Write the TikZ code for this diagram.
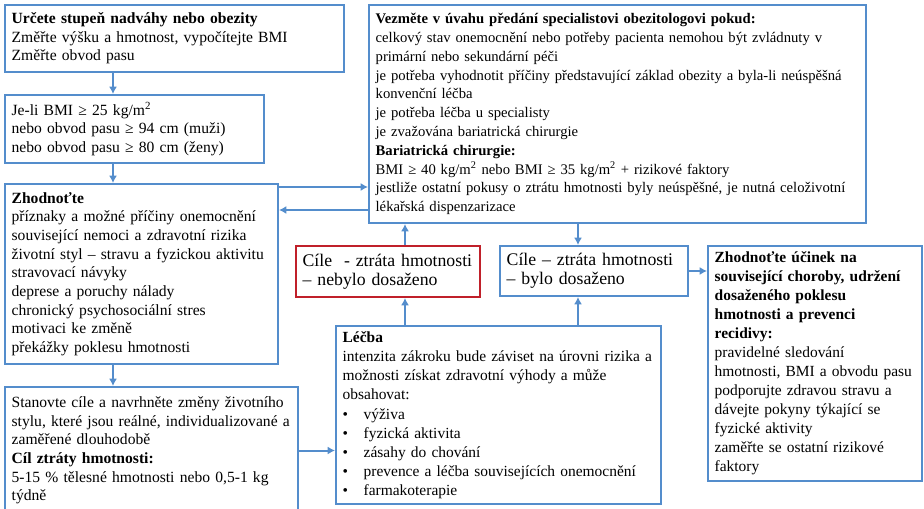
\documentclass[tikz,border=0pt]{standalone}
\usepackage{fontspec}
\setmainfont{Liberation Serif}
\usetikzlibrary{arrows.meta}
\usetikzlibrary{positioning}
\definecolor{boxblue}{RGB}{84,141,204}
\definecolor{boxred}{RGB}{192,32,42}
\tikzset{
    blk/.style={
           rectangle,
           draw=boxblue, line width=1.5pt,
           inner xsep=5pt, inner ysep=4pt,
           align=left,
           font=\fontsize{11.7pt}{14pt}\selectfont,
           },
}
\tikzset{
    warn/.style={
           blk,
           draw=boxred,
           font=\fontsize{13.3pt}{14pt}\selectfont,
           },
}
\tikzset{
    arr/.style={
           draw=boxblue, line width=1.5pt,
           -{Latex[length=5.5pt,width=6pt]},
           },
}
\newcommand{\bul}{\makebox[15.75pt][l]{\textbullet}}

\begin{document}
\begin{tikzpicture}[x=0.75pt,y=-0.75pt]
\useasboundingbox (0,0) rectangle (924,509);
% left column
\node[blk,text width=244.25pt,minimum height=50.25pt,anchor=north west](det) at (4,4){\textbf{Určete stupeň nadváhy nebo obezity}\\Změřte výšku a hmotnost, vypočítejte BMI\\Změřte obvod pasu};
\node[blk,text width=184.25pt,minimum height=51pt,below=15.75pt of det.south west,anchor=north west](bmi){Je-li BMI ≥ 25 kg/m\textsuperscript{2}\\nebo obvod pasu ≥ 94 cm (muži)\\nebo obvod pasu ≥ 80 cm (ženy)};
\node[blk,text width=194.75pt,minimum height=135pt,below=14.25pt of bmi.south west,anchor=north west](zhod){\textbf{Zhodnoťte}\\příznaky a možné příčiny onemocnění\\související nemoci a zdravotní rizika\\životní styl – stravu a fyzickou aktivitu\\stravovací návyky\\deprese a poruchy nálady\\chronický psychosociální stres\\motivaci ke změně\\překážky poklesu hmotnosti};
\node[blk,text width=209.75pt,minimum height=95.25pt,below=15.75pt of zhod.south west,anchor=north west](goals){Stanovte cíle a navrhněte změny životního\\\mbox{stylu, které jsou reálné, individualizované a}\\zaměřené dlouhodobě\\\textbf{Cíl ztráty hmotnosti:}\\5-15 \% tělesné hmotnosti nebo 0,5-1 kg\\týdně};
% specialist
\node[blk,text width=362.75pt,minimum height=163.5pt,anchor=north west,font=\fontsize{11pt}{14.1pt}\selectfont](refer) at (368,4){\textbf{Vezměte v úvahu předání specialistovi obezitologovi pokud:}\\celkový stav onemocnění nebo potřeby pacienta nemohou být zvládnuty v\\primární nebo sekundární péči\\je potřeba vyhodnotit příčiny představující základ obezity a byla-li neúspěšná\\konvenční léčba\\je potřeba léčba u specialisty\\je zvažována bariatrická chirurgie\\\textbf{Bariatrická chirurgie:}\\BMI ≥ 40 kg/m\textsuperscript{2} nebo BMI ≥ 35 kg/m\textsuperscript{2} + rizikové faktory\\jestliže ostatní pokusy o ztrátu hmotnosti byly neúspěšné, je nutná celoživotní\\lékařská dispenzarizace};
% outcomes
\node[warn,text width=128pt,minimum height=38.25pt,anchor=north west](goalno) at (295,245){Cíle \ - ztráta hmotnosti\\– nebylo dosaženo};
\node[blk,text width=131pt,minimum height=37.5pt,right=13.5pt of goalno.north east,anchor=north west,font=\fontsize{13.3pt}{14pt}\selectfont](goalyes){Cíle – ztráta hmotnosti\\– bylo dosaženo};
\node[blk,text width=233.75pt,minimum height=133.5pt,anchor=north west,font=\fontsize{11.6pt}{14.4pt}\selectfont](treat) at (335,325){\textbf{Léčba}\\\mbox{intenzita zákroku bude záviset na úrovni rizika a}\\možnosti získat zdravotní výhody a může\\obsahovat:\\\bul výživa\\\bul fyzická aktivita\\\bul zásahy do chování\\\bul prevence a léčba souvisejících onemocnění\\\bul farmakoterapie};
\node[blk,text width=150.5pt,minimum height=176.25pt,right=13.5pt of goalyes.north east,anchor=north west,font=\fontsize{11.6pt}{14.25pt}\selectfont](eval){\textbf{Zhodnoťte účinek na}\\\textbf{související choroby, udržení}\\\textbf{dosaženého poklesu}\\\textbf{hmotnosti a prevenci}\\\textbf{recidivy:}\\pravidelné sledování\\\mbox{hmotnosti, BMI a obvodu pasu}\\podporujte zdravou stravu a\\dávejte pokyny týkající se\\fyzické aktivity\\zaměřte se ostatní rizikové\\faktory};
% connectors
\coordinate (ax) at (113,0);
\coordinate (ano) at (405,0);
\coordinate (ayes) at (578,0);
\coordinate (zr) at (0,187);
\coordinate (rz) at (0,210);
\draw[arr] (det.south -| ax) -- (bmi.north -| ax);
\draw[arr] (bmi.south -| ax) -- (zhod.north -| ax);
\draw[arr] (zhod.south -| ax) -- (goals.north -| ax);
\draw[arr] (goals.east) -- (goals.east -| treat.west);
\draw[arr] (zhod.east |- zr) -- (refer.west |- zr);
\draw[arr] (refer.west |- rz) -- (zhod.east |- rz);
\draw[arr] (goalno.north -| ano) -- (refer.south -| ano);
\draw[arr] (treat.north -| ano) -- (goalno.south -| ano);
\draw[arr] (refer.south -| ayes) -- (goalyes.north -| ayes);
\draw[arr] (treat.north -| ayes) -- (goalyes.south -| ayes);
\draw[arr] (goalyes.east) -- (goalyes.east -| eval.west);
\end{tikzpicture}
\end{document}
